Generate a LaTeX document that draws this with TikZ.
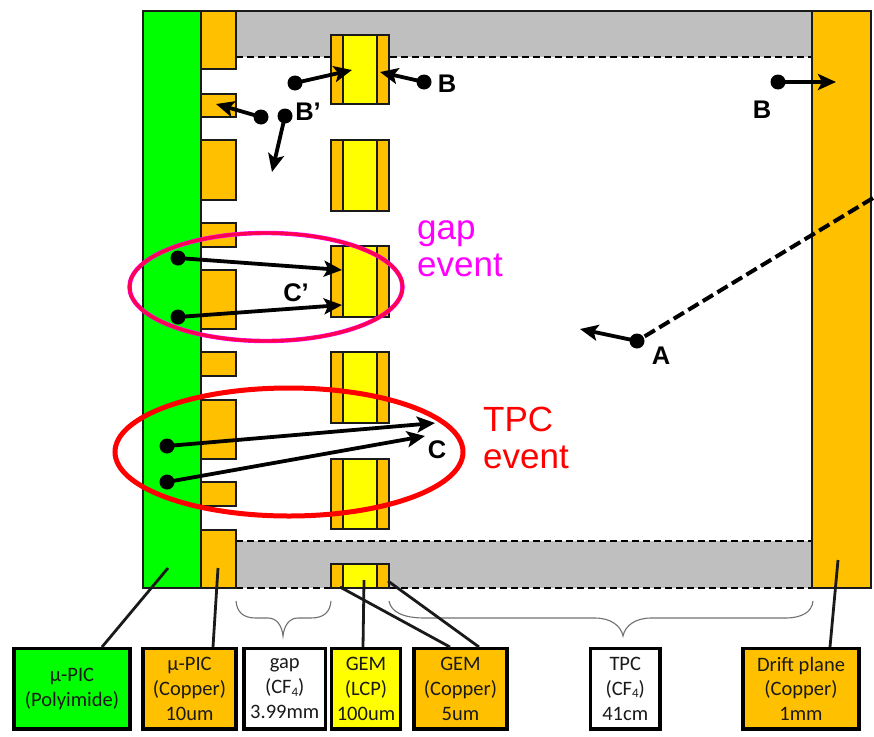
\documentclass[tikz,border=0pt]{standalone}
\usepackage{fontspec}
\setmainfont{Liberation Sans}
\newfontfamily\carl{Carlito}
\usetikzlibrary{arrows.meta}
\definecolor{cu}{HTML}{FFC000}
\definecolor{lcp}{HTML}{FFFF00}
\definecolor{poly}{HTML}{00FF00}
\definecolor{gasgray}{HTML}{BFBFBF}
\definecolor{ink}{HTML}{1A1A1A}
\definecolor{puremag}{HTML}{FF00FF}
\definecolor{puremagred}{HTML}{FF0050}
\definecolor{purered}{HTML}{FF0000}
\definecolor{bracegray}{HTML}{707070}
\newcommand{\subf}{\raisebox{-0.25ex}{\fontsize{13}{13}\selectfont 4}}
\tikzset{
 part/.style={draw=ink,line width=2pt},
 pad/.style={part,fill=cu},
 dotn/.style={circle,fill=black,inner sep=0pt,minimum size=15pt},
 trk/.style={line width=3.8pt,black,-{Stealth[length=18pt,width=16pt,inset=4pt]}},
 lab/.style={draw=black,line width=3.5pt,align=center,inner sep=0pt,minimum height=80.5pt,font=\carl\fontsize{20.5}{24.7}\selectfont,text=ink,anchor=north west,outer sep=0pt},
 lead/.style={line width=2.8pt,ink},
 dashl/.style={line width=1.7pt,black,dash pattern=on 7pt off 4pt},
 brace/.style={draw=bracegray,line width=1.1pt},
 let/.style={font=\bfseries\fontsize{25.5}{25.5}\selectfont,text=black,inner sep=0pt},
 ev/.style={font=\fontsize{35}{37}\selectfont,align=left,anchor=north west,inner sep=0pt},
}
\newcommand{\gemunit}[2]{%
 \fill[cu] (331,#1) rectangle (389,#2);
 \fill[lcp] (343,#1) rectangle (377,#2);
 \draw[part] (331,#1) rectangle (389,#2);
 \draw[part] (343,#1) -- (343,#2) (377,#1) -- (377,#2);
}
\begin{document}
\begin{tikzpicture}[x=1pt,y=-1pt]
\useasboundingbox (0,0) rectangle (874,736);
% gas bands
\fill[gasgray] (236,11) rectangle (812,57);
\fill[gasgray] (236,541) rectangle (812,588);
\draw[dashl] (236,57) -- (812,57);
\draw[dashl] (236,541) -- (812,541);
\draw[dashl] (236,588) -- (812,588);
\draw[part] (236,11) -- (812,11);
% uPIC
\draw[part,fill=poly] (143,11) rectangle (201,588);
\foreach \a/\b in {11/69,94/117,140/200,223/247,270/329,352/376,400/459,482/506,530/588}
  \draw[pad] (201,\a) rectangle (236,\b);
% GEM
\gemunit{35}{104}
\gemunit{140}{211}
\gemunit{246}{317}
\gemunit{352}{423}
\gemunit{459}{529}
\gemunit{564}{588}
% drift
\draw[pad] (812,11) rectangle (871,588);
% ellipses
\draw[puremag,line width=4.4pt] (266,287) ellipse [x radius=136.5,y radius=54];
\draw[puremagred,line width=3.4pt] (266,287) ellipse [x radius=136.5,y radius=54];
\draw[purered,line width=5pt] (289,452) ellipse [x radius=174,y radius=64];
% event texts
\node[ev,text=puremag] (gapev) at (417,220) {gap\\event};
\node[ev,text=purered] (tpcev) at (483,407) {TPC\\event};
% track dots
\node[dotn] (b1) at (295,83) {};
\node[dotn] (b2) at (424,82) {};
\node[dotn] (b3) at (261,117) {};
\node[dotn] (b4) at (285,116) {};
\node[dotn] (b5) at (778,82) {};
\node[dotn] (c1) at (178,258) {};
\node[dotn] (c2) at (178,317) {};
\node[dotn] (c3) at (167,446) {};
\node[dotn] (c4) at (167,482) {};
\node[dotn] (a1) at (637,341) {};
% track ends
\coordinate (b1e) at (352,70);
\coordinate (b2e) at (380,72);
\coordinate (b3e) at (216,104);
\coordinate (b4e) at (272,172);
\coordinate (b5e) at (836,82);
\coordinate (c1e) at (342,270);
\coordinate (c2e) at (342,305);
\coordinate (c3e) at (435,423);
\coordinate (c4e) at (425,436);
\coordinate (a1e) at (580,329);
\coordinate (a1s) at (873,198);
\foreach \s in {b1,b2,b3,b4,b5,c1,c2,c3,c4,a1}
  \draw[trk] (\s.center) -- (\s e);
\draw[line width=4pt,black,dash pattern=on 12pt off 5pt] (a1s) -- (a1.center);
% letters
\node[let] (lb) at (447,84) {B};
\node[let] (lb2) at (762,110) {B};
\node[let] (lbp) at (308,112) {B’};
\node[let] (lcp2) at (296,293) {C’};
\node[let] (lc) at (437,450) {C};
\node[let] (la) at (661,356) {A};
% braces
\draw[brace] (236,601) .. controls (237,612) and (243,618) .. (256,618) -- (268,618) .. controls (277,618) and (282,626) .. (283,636) .. controls (284,626) and (289,618) .. (298,618) -- (311,618) .. controls (324,618) and (330,612) .. (331,601);
\draw[brace] (389,601) .. controls (391,612) and (403,618) .. (425,618) -- (595,618) .. controls (611,618) and (621,626) .. (623,636) .. controls (625,626) and (635,618) .. (651,618) -- (785,618) .. controls (802,618) and (812,612) .. (813,601);
% label boxes
\node[lab,fill=poly,minimum width=116pt] (lpoly) at (14,648.5) {µ-PIC\\(Polyimide)};
\node[lab,fill=cu,minimum width=93pt] (lcu) at (143,648.5) {µ-PIC\\(Copper)\\10um};
\node[lab,fill=white,minimum width=81.5pt] (lgap) at (244,648.5) {gap\\(CF\subf)\\3.99mm};
\node[lab,fill=lcp,minimum width=69pt] (llcp) at (331.5,648.5) {GEM\\(LCP)\\100um};
\node[lab,fill=cu,minimum width=93pt] (lgem) at (414,648.5) {GEM\\(Copper)\\5um};
\node[lab,fill=white,minimum width=69.5pt] (ltpc) at (590.5,648.5) {TPC\\(CF\subf)\\41cm};
\node[lab,fill=cu,minimum width=116pt] (ldrift) at (743,648.5) {Drift plane\\(Copper)\\1mm};
% leaders
\coordinate (p1) at (168,568);
\coordinate (p2) at (218,568);
\coordinate (p3) at (364,580);
\coordinate (p4) at (340,587);
\coordinate (p5) at (388,581);
\coordinate (p6) at (838,560);
\coordinate (q1) at (102,647);
\coordinate (q2) at (213,647);
\coordinate (q3) at (363,647);
\coordinate (q4) at (450,647);
\coordinate (q5) at (479,647);
\coordinate (q6) at (830,647);
\draw[lead] (p1) -- (q1);
\draw[lead] (p2) -- (q2);
\draw[lead] (p3) -- (q3);
\draw[lead] (p4) -- (q4);
\draw[lead] (p5) -- (q5);
\draw[lead] (p6) -- (q6);
\end{tikzpicture}
\end{document}
